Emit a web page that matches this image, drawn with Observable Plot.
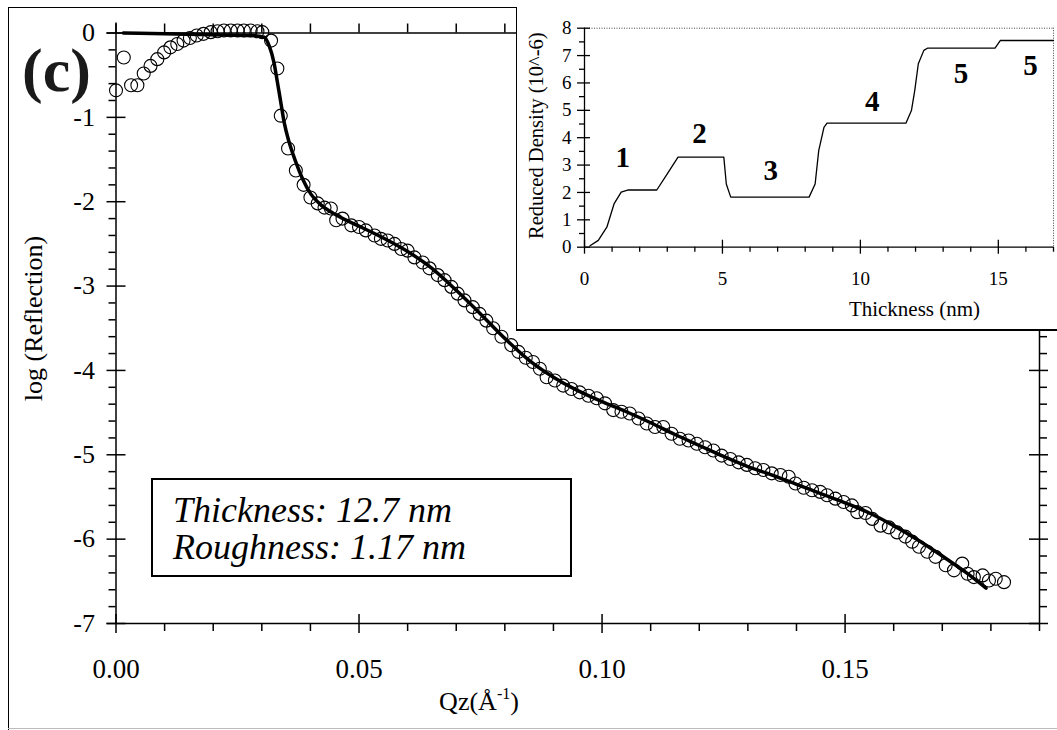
<!DOCTYPE html>
<html>
<head>
<meta charset="utf-8">
<script src="https://cdn.jsdelivr.net/npm/d3@7"></script>
<script src="https://cdn.jsdelivr.net/npm/@observablehq/plot@0.6"></script>
<style>
  html, body { margin: 0; padding: 0; background: #fff; }
  #fig { position: relative; width: 1057px; height: 730px; overflow: hidden; background: #fff;
         font-family: "Liberation Serif", "Times New Roman", Times, serif; color: #000; }
  #fig svg { position: absolute; left: 0; top: 0; }
  .ln { position: absolute; background: #000; }
  #inset { position: absolute; left: 516px; top: 7px; width: 541px; height: 323px; background: #fff; }
  #note { position: absolute; left: 151px; top: 478px; width: 421px; height: 99px; box-sizing: border-box;
          border: 2px solid #000; background: #fff; font-family: "Liberation Serif", "Times New Roman", Times, serif;
          font-style: italic; font-size: 36px; line-height: 37px; padding: 12px 0 0 20px; white-space: nowrap; }
  #xlabel { position: absolute; left: 479px; top: 689px; transform: translateX(-50%); font-size: 26px;
            line-height: 26px; white-space: nowrap; }
  #xlabel sup { font-size: 16px; vertical-align: 11px; line-height: 0; }
</style>
</head>
<body>
<div id="fig"></div>
<script>
// ---------- main chart data ----------
const qz = [0.0000, 0.0016, 0.0031, 0.0044, 0.0057, 0.0071, 0.0085, 0.0099, 0.0112, 0.0126,
  0.0139, 0.0152, 0.0166, 0.0180, 0.0195, 0.0209, 0.0222, 0.0236, 0.0250, 0.0263,
  0.0277, 0.0291, 0.0301, 0.0319, 0.0332, 0.0339, 0.0354, 0.0370, 0.0386, 0.0400,
  0.0415, 0.0429, 0.0442, 0.0453, 0.0466, 0.0484, 0.0500, 0.0514, 0.0532, 0.0545,
  0.0559, 0.0573, 0.0587, 0.0600, 0.0614, 0.0631, 0.0645, 0.0662, 0.0676, 0.0690,
  0.0703, 0.0717, 0.0734, 0.0748, 0.0762, 0.0776, 0.0793, 0.0813, 0.0828, 0.0843,
  0.0858, 0.0872, 0.0886, 0.0903, 0.0920, 0.0937, 0.0954, 0.0972, 0.0989, 0.1006,
  0.1023, 0.1040, 0.1057, 0.1075, 0.1092, 0.1109, 0.1126, 0.1143, 0.1160, 0.1178,
  0.1195, 0.1212, 0.1229, 0.1246, 0.1264, 0.1281, 0.1298, 0.1315, 0.1332, 0.1349,
  0.1367, 0.1384, 0.1398, 0.1415, 0.1432, 0.1449, 0.1463, 0.1480, 0.1497, 0.1514,
  0.1525, 0.1542, 0.1556, 0.1573, 0.1590, 0.1607, 0.1624, 0.1638, 0.1652, 0.1669,
  0.1686, 0.1707, 0.1724, 0.1741, 0.1752, 0.1765, 0.1783, 0.1796, 0.1810, 0.1827];
const logReflection = [-0.68, -0.29, -0.62, -0.62, -0.48, -0.39, -0.31, -0.23, -0.17, -0.13,
  -0.09, -0.06, -0.03, -0.01, 0.01, 0.02, 0.03, 0.03, 0.03, 0.03,
  0.03, 0.02, 0.01, -0.09, -0.42, -0.98, -1.37, -1.63, -1.80, -1.95,
  -2.02, -2.07, -2.08, -2.22, -2.20, -2.28, -2.30, -2.34, -2.40, -2.44,
  -2.46, -2.50, -2.56, -2.58, -2.66, -2.72, -2.79, -2.87, -2.93, -3.01,
  -3.09, -3.17, -3.25, -3.33, -3.41, -3.50, -3.60, -3.70, -3.78, -3.85,
  -3.90, -3.98, -4.08, -4.12, -4.18, -4.22, -4.26, -4.30, -4.33, -4.39,
  -4.47, -4.49, -4.51, -4.57, -4.63, -4.67, -4.67, -4.75, -4.81, -4.83,
  -4.87, -4.91, -4.95, -5.01, -5.05, -5.09, -5.12, -5.16, -5.18, -5.22,
  -5.24, -5.26, -5.34, -5.39, -5.42, -5.44, -5.48, -5.52, -5.56, -5.60,
  -5.68, -5.69, -5.76, -5.84, -5.86, -5.92, -5.97, -6.03, -6.09, -6.15,
  -6.21, -6.31, -6.37, -6.29, -6.41, -6.45, -6.43, -6.49, -6.47, -6.51];
const fitQz = [0.0015, 0.010, 0.020, 0.028, 0.0305, 0.0315, 0.0325, 0.0332, 0.0339, 0.0346,
  0.0356, 0.037, 0.0384, 0.0401, 0.0422, 0.0442, 0.047, 0.050, 0.055, 0.060,
  0.065, 0.070, 0.075, 0.080, 0.085, 0.090, 0.095, 0.100, 0.105, 0.110,
  0.115, 0.120, 0.125, 0.130, 0.135, 0.140, 0.145, 0.150, 0.155, 0.160,
  0.165, 0.170, 0.175, 0.179];
const fitLogR = [0.00, -0.01, -0.02, -0.03, -0.05, -0.15, -0.35, -0.58, -0.82, -1.06,
  -1.29, -1.53, -1.73, -1.91, -2.04, -2.12, -2.21, -2.29, -2.43, -2.59,
  -2.79, -3.05, -3.33, -3.62, -3.88, -4.08, -4.24, -4.37, -4.49, -4.62,
  -4.76, -4.89, -5.02, -5.14, -5.24, -5.35, -5.46, -5.57, -5.69, -5.84,
  -6.01, -6.20, -6.40, -6.58];
const xMajorTicks = [0, 0.05, 0.10, 0.15];
const xTickLabels = ["0.00", "0.05", "0.10", "0.15"];
const yMajorTicks = [0, -1, -2, -3, -4, -5, -6, -7];
const yTickLabels = ["0", "-1", "-2", "-3", "-4", "-5", "-6", "-7"];

// ---------- inset data ----------
const thicknessNm = [0.2, 0.5, 0.81, 1.07, 1.33, 1.59, 2.62, 3.0, 3.39, 5.05,
  5.14, 5.3, 8.14, 8.36, 8.49, 8.68, 8.79, 11.65, 11.85, 11.97,
  12.1, 12.3, 12.43, 14.88, 15.07, 17];
const reducedDensity = [0.05, 0.25, 0.73, 1.58, 2.01, 2.09, 2.09, 2.68, 3.29, 3.29,
  2.31, 1.83, 1.83, 2.31, 3.53, 4.38, 4.53, 4.53, 4.99, 5.72,
  6.7, 7.19, 7.27, 7.27, 7.55, 7.55];
const layerNames = ["1", "2", "3", "4", "5", "5"];
const layerX = [1.39, 4.17, 6.75, 10.43, 13.65, 16.17];
const layerY = [3.27, 4.14, 2.8, 5.3, 6.33, 6.64];
const insetXMajor = [0, 5, 10, 15];
const insetYMajor = [0, 1, 2, 3, 4, 5, 6, 7, 8];

// ---------- build tables ----------
const FONT = '"Liberation Serif", "Times New Roman", Times, serif';
const X_MAX = 0.19;
const points = qz.map((q, i) => ({q, r: logReflection[i]}));
const fit = fitQz.map((q, i) => ({q, r: fitLogR[i]}));
const xMinor = d3.range(1, 20).map(i => i / 100).filter(v => Math.round(v * 100) % 5 !== 0);
const yMinor = d3.range(-35, 1).map(i => i / 5).filter(v => Math.abs(v - Math.round(v)) > 1e-9);
const K = 1.5;

const main = Plot.plot({
  width: 1057, height: 730,
  marginLeft: 115.5, marginRight: 18, marginTop: 32.5, marginBottom: 107,
  x: {domain: [0, X_MAX], axis: null},
  y: {domain: [-7, 0], axis: null},
  style: {background: "transparent", fontFamily: FONT, overflow: "visible", color: "#000"},
  marks: [
    // frame lines
    Plot.ruleY([0], {x1: () => 0, x2: () => X_MAX, insetLeft: -9, stroke: "#000", strokeWidth: K}),
    Plot.ruleY([-7], {x1: () => 0, x2: () => X_MAX, insetLeft: -9, stroke: "#000", strokeWidth: K}),
    Plot.ruleX([0], {y1: () => 0, y2: () => -7, insetTop: -10, stroke: "#000", strokeWidth: K}),
    Plot.ruleX([X_MAX], {y1: () => 0, y2: () => -7, stroke: "#000", strokeWidth: K}),
    // left ticks
    Plot.ruleY(yMajorTicks, {x1: () => 0, x2: () => 0, insetLeft: -9, insetRight: -10, stroke: "#000", strokeWidth: K}),
    Plot.ruleY(yMinor, {x1: () => 0, x2: () => 0, insetLeft: -7, stroke: "#000", strokeWidth: K}),
    // right ticks
    Plot.ruleY(yMajorTicks, {x1: () => X_MAX, x2: () => X_MAX, insetLeft: -10, insetRight: -9, stroke: "#000", strokeWidth: K}),
    Plot.ruleY(yMinor, {x1: () => X_MAX, x2: () => X_MAX, insetRight: -8, stroke: "#000", strokeWidth: K}),
    // bottom ticks
    Plot.ruleX(xMajorTicks, {y1: () => -7, y2: () => -7, insetTop: -9, insetBottom: -10, stroke: "#000", strokeWidth: K}),
    Plot.ruleX(xMinor, {y1: () => -7, y2: () => -7, insetBottom: -8, stroke: "#000", strokeWidth: K}),
    // top ticks
    Plot.ruleX(xMajorTicks.concat(xMinor), {y1: () => 0, y2: () => 0, insetTop: -9, stroke: "#000", strokeWidth: K}),
    // data
    Plot.dot(points, {x: "q", y: "r", r: 6.5, stroke: "#000", strokeWidth: 1.1, fill: "none"}),
    Plot.line(fit, {x: "q", y: "r", stroke: "#000", strokeWidth: 3.5, curve: "monotone-x"}),
    // tick labels
    Plot.text(yMajorTicks, {x: () => 0, y: d => d, text: (d, i) => yTickLabels[i], textAnchor: "end", dx: -21, fontSize: 26, fill: "#000"}),
    Plot.text(xMajorTicks, {x: d => d, y: () => -7, text: (d, i) => xTickLabels[i], dy: 46, fontSize: 27, fill: "#000"}),
    // axis label
    Plot.text(["log (Reflection)"], {frameAnchor: "left", rotate: -90, textAnchor: "middle", lineAnchor: "middle", dx: -82.5, dy: -9.75, fontSize: 26, fill: "#000"}),
    // panel tag
    Plot.text(["(c)"], {frameAnchor: "top-left", textAnchor: "middle", lineAnchor: "middle", dx: -59.5, dy: 38, fontSize: 62, fontWeight: "bold", fill: "#1a1a1a"})
  ]
});

const iMinorX = d3.range(1, 18).filter(v => v % 5 !== 0);
const iMinorY = d3.range(0, 16).map(i => i / 2 + 0.5).filter(v => v % 1 !== 0);
const profile = thicknessNm.map((t, i) => ({t, d: reducedDensity[i]}));
const layers = layerNames.map((n, i) => ({n, t: layerX[i], d: layerY[i]}));
const IK = 1.3;

const inset = Plot.plot({
  width: 541, height: 323,
  marginLeft: 68, marginRight: 4, marginTop: 20.7, marginBottom: 83.3,
  x: {domain: [0, 17], axis: null},
  y: {domain: [0, 8], axis: null},
  style: {background: "transparent", fontFamily: FONT, overflow: "visible", color: "#000"},
  marks: [
    Plot.ruleY([8], {x1: () => 0, x2: () => 17, stroke: "#444", strokeWidth: 1, strokeDasharray: "1,1.5"}),
    Plot.ruleX([17], {y1: () => 8, y2: () => 0, stroke: "#444", strokeWidth: 1, strokeDasharray: "1,1.5"}),
    Plot.ruleY([0], {x1: () => 0, x2: () => 17, stroke: "#000", strokeWidth: IK}),
    Plot.ruleX([0], {y1: () => 8, y2: () => 0, stroke: "#000", strokeWidth: IK}),
    Plot.ruleX(insetXMajor, {y1: () => 0, y2: () => 0, insetTop: -7, insetBottom: -7, stroke: "#000", strokeWidth: IK}),
    Plot.ruleX(iMinorX, {y1: () => 0, y2: () => 0, insetBottom: -5, stroke: "#000", strokeWidth: IK}),
    Plot.ruleY(insetYMajor, {x1: () => 0, x2: () => 0, insetLeft: -7, insetRight: -6, stroke: "#000", strokeWidth: IK}),
    Plot.ruleY(iMinorY, {x1: () => 0, x2: () => 0, insetLeft: -5, stroke: "#000", strokeWidth: IK}),
    Plot.line(profile, {x: "t", y: "d", stroke: "#000", strokeWidth: 1.3}),
    Plot.text(layers, {x: "t", y: "d", text: "n", fontSize: 29, fontWeight: "bold", fill: "#000"}),
    Plot.text(insetXMajor, {x: d => d, y: () => 0, text: d => String(d), dy: 31.6, fontSize: 19, fill: "#000"}),
    Plot.text(insetYMajor, {x: () => 0, y: d => d, text: d => String(d), textAnchor: "end", dx: -13, fontSize: 19, fill: "#000"}),
    Plot.text(["Thickness (nm)"], {frameAnchor: "bottom", textAnchor: "middle", lineAnchor: "middle", dx: 95.5, dy: 61.6, fontSize: 21, fill: "#000"}),
    Plot.text(["Reduced Density (10^-6)"], {frameAnchor: "left", rotate: -90, textAnchor: "middle", lineAnchor: "middle", dx: -48.5, dy: -2, fontSize: 20.5, fill: "#000"})
  ]
});

const fig = document.getElementById("fig");
fig.appendChild(main);

function line(l, t, w, h, c) {
  const d = document.createElement("div");
  d.className = "ln";
  d.style.cssText = `left:${l}px;top:${t}px;width:${w}px;height:${h}px;` + (c ? `background:${c};` : "");
  fig.appendChild(d);
}
// outer figure frame
line(7.5, 6.5, 1050, 1.5);
line(7.5, 6.5, 1.5, 724);
line(7.5, 728, 1050, 1, "#bbb");

const note = document.createElement("div");
note.id = "note";
note.innerHTML = "Thickness: 12.7 nm<br>Roughness: 1.17 nm";
fig.appendChild(note);

const xl = document.createElement("div");
xl.id = "xlabel";
xl.innerHTML = "Qz(Å<sup>-1</sup>)";
fig.appendChild(xl);

const insetBox = document.createElement("div");
insetBox.id = "inset";
insetBox.appendChild(inset);
fig.appendChild(insetBox);
line(515.5, 6.5, 1.5, 324);
line(515.5, 329, 542, 1.5);
</script>
</body>
</html>
